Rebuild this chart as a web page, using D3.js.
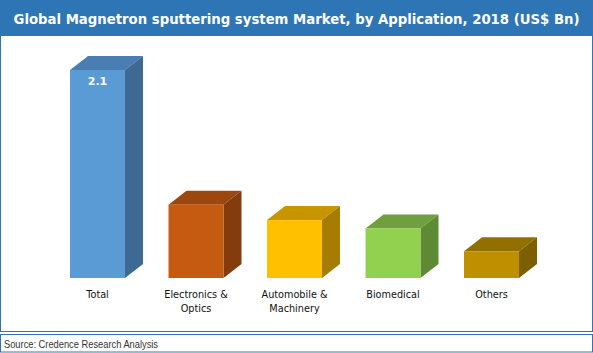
<!DOCTYPE html>
<html><head><meta charset="utf-8">
<script src="https://cdn.jsdelivr.net/npm/d3@7"></script>
<style>body{margin:0;background:#fff}svg{display:block}</style>
</head><body>
<svg id="c" width="593" height="353"></svg>
<script>
const categories = ["Total", "Electronics & Optics", "Automobile & Machinery", "Biomedical", "Others"];
const labelLines = [["Total"], ["Electronics &", "Optics"], ["Automobile &", "Machinery"], ["Biomedical"], ["Others"]];
const values = [2.1, 0.74, 0.585, 0.5, 0.27];
const valueLabels = ["2.1", "", "", "", ""];
const frontColors = ["#5B9BD5", "#C55A11", "#FFC000", "#92D050", "#BF8F00"];
const topColors = ["#4A7EB3", "#9C470D", "#C69500", "#70A03E", "#917000"];
const sideColors = ["#3D6A93", "#843C0C", "#A67D00", "#5E8A33", "#7B5F00"];
const title = "Global Magnetron sputtering system Market, by Application, 2018 (US$ Bn)";
const source = "Source: Credence Research Analysis";

const svg = d3.select("#c");
svg.append("rect").attr("x",0).attr("y",0).attr("width",593).attr("height",36).attr("fill","#2E75B6");
svg.append("rect").attr("x",0.5).attr("y",0.5).attr("width",592).attr("height",331).attr("fill","none").attr("stroke","#2E75B6");
svg.append("rect").attr("x",0.5).attr("y",334.5).attr("width",592).attr("height",17.5).attr("fill","none").attr("stroke","#2E75B6");
svg.append("text").attr("x",296.5).attr("y",23.5).attr("text-anchor","middle")
  .attr("fill","#fff").attr("font-family","DejaVu Sans, Verdana, sans-serif").attr("font-weight","bold")
  .attr("font-size",13.5).attr("textLength",566).attr("lengthAdjust","spacingAndGlyphs").text(title);
svg.append("text").attr("x",4).attr("y",347.5).attr("fill","#333").attr("font-family","Liberation Sans, Arial, sans-serif")
  .attr("font-size",10.5).attr("textLength",154).attr("lengthAdjust","spacingAndGlyphs").text(source);

const x = d3.scaleBand().domain(categories).range([48.25, 540.75]).paddingInner(0.442).paddingOuter(0.221);
const y = d3.scaleLinear().domain([0, 2.1]).range([278, 70]);
const dx = 18, dy = 14;

const g = svg.append("g");
categories.forEach((c, i) => {
  const x0 = x(c), w = x.bandwidth(), y0 = y(values[i]), yb = y(0);
  g.append("path").attr("d", `M${x0},${y0}L${x0+dx},${y0-dy}L${x0+w+dx},${y0-dy}L${x0+w},${y0}Z`).attr("fill", topColors[i]);
  g.append("path").attr("d", `M${x0+w},${y0}L${x0+w+dx},${y0-dy}L${x0+w+dx},${yb-dy}L${x0+w},${yb}Z`).attr("fill", sideColors[i]);
  g.append("rect").attr("x", x0).attr("y", y0).attr("width", w).attr("height", yb - y0).attr("fill", frontColors[i]);
  if (valueLabels[i]) {
    g.append("text").attr("x", x0 + w/2).attr("y", y0 + 15).attr("text-anchor","middle").attr("fill","#fff")
      .attr("font-family","DejaVu Sans, Verdana, sans-serif").attr("font-weight","bold").attr("font-size",11).text(valueLabels[i]);
  }
  const lt = g.append("text").attr("text-anchor","middle").attr("font-family","DejaVu Sans, Verdana, sans-serif")
    .attr("font-size",9.7).attr("fill","#111");
  labelLines[i].forEach((ln, j) => {
    lt.append("tspan").attr("x", x0 + w/2).attr("y", 298 + j*14).text(ln);
  });
});
</script>
</body></html>
